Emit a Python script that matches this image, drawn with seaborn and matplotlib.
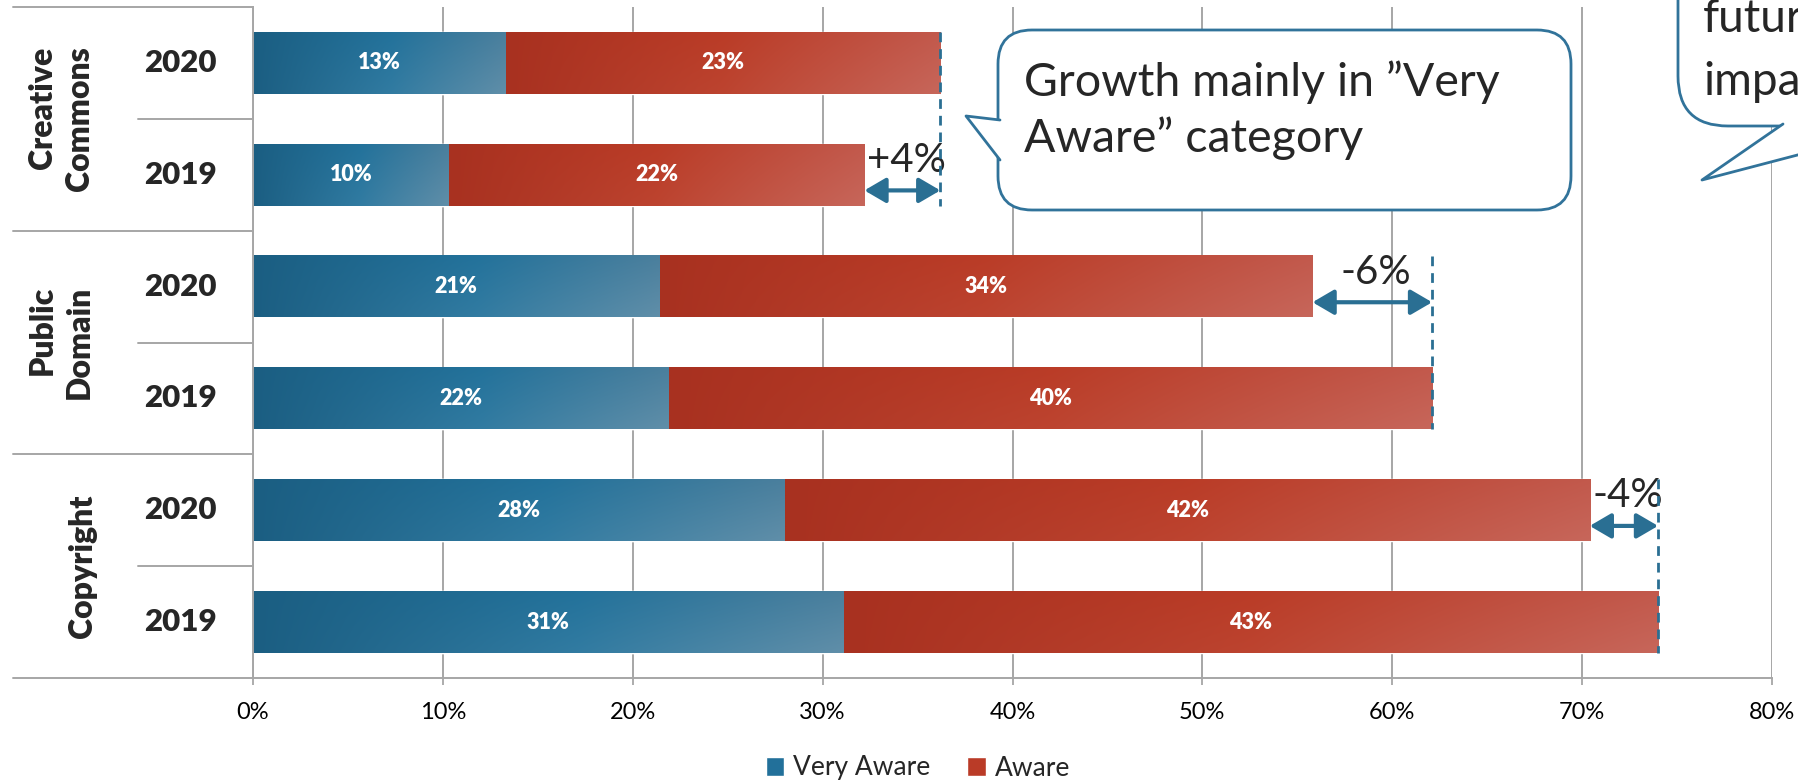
import numpy as np
import pandas as pd
import matplotlib
matplotlib.use("Agg")
import matplotlib.pyplot as plt
import matplotlib.transforms as mtransforms
from matplotlib.patches import FancyBboxPatch, Polygon, Patch, ArrowStyle
from matplotlib.lines import Line2D
from matplotlib.colors import to_rgb
import seaborn as sns

# ---------------- data ----------------
groups = ["Creative\nCommons", "Public\nDomain", "Copyright"]
years = ["2020", "2019"]
rows = ["Creative Commons 2020", "Creative Commons 2019",
        "Public Domain 2020", "Public Domain 2019",
        "Copyright 2020", "Copyright 2019"]
very_aware = [13.3, 10.3, 21.4, 21.9, 28.0, 31.1]
aware = [22.9, 21.9, 34.4, 40.2, 42.4, 42.9]
xticks = [0, 10, 20, 30, 40, 50, 60, 70, 80]
series_names = ["Very Aware", "Aware"]
callout_1 = ["Growth mainly in \u201dVery", "Aware\u201d category"]
callout_2 = ["future", "impact"]

# ---------------- style ----------------
sns.set_theme(style="white")
plt.rcParams["font.family"] = ["Lato", "DejaVu Sans"]

BLUE = "#22709A"
RED = "#BA3B27"
GRID = "#A6A6A6"
ARROW = "#2A6F93"
EDGE = "#31739A"

W, H = 1798, 781
fig = plt.figure(figsize=(W / 100, H / 100), dpi=100)
fig.patch.set_facecolor("white")
ax_l, ax_r, ax_t, ax_b = 253, 1772, 7, 678
ax = fig.add_axes([ax_l / W, 1 - ax_b / H, (ax_r - ax_l) / W, (ax_b - ax_t) / H])

df = pd.DataFrame({"row": rows, "va": very_aware, "aware": aware})
df["total"] = df["va"] + df["aware"]

sns.barplot(data=df, x="total", y="row", color=RED, width=0.55,
            saturation=1, ax=ax, zorder=1)
sns.barplot(data=df, x="va", y="row", color=BLUE, width=0.55,
            saturation=1, ax=ax, zorder=1)


def gradient(stops, n=200, m=40, light=0.12):
    xs = np.linspace(0, 1, n)
    pos = [s[0] for s in stops]
    cols = np.array([to_rgb(s[1]) for s in stops])
    row = np.stack([np.interp(xs, pos, cols[:, k]) for k in range(3)], axis=-1)
    img = np.repeat(row[None, :, :], m, axis=0)
    ys = np.linspace(0, 1, m)[:, None, None]
    amt = light * xs[None, :, None] * ys
    return img * (1 - amt) + amt


blue_grad = gradient([(0, "#1B5E82"), (0.55, "#23729B"), (1, "#4A7F9D")])
red_grad = gradient([(0, "#A83120"), (0.5, "#BA3C27"), (1, "#C2594C")], light=0.08)

n = len(rows)
red_patches = ax.patches[:n]
blue_patches = ax.patches[n:2 * n]
for i, p in enumerate(red_patches):
    y0, h = p.get_y(), p.get_height()
    x0 = df["va"].iloc[i]
    x1 = p.get_x() + p.get_width()
    ax.imshow(red_grad, extent=(x0, x1, y0 + h, y0), aspect="auto",
              interpolation="bilinear", zorder=1.2)
for p in blue_patches:
    y0, h = p.get_y(), p.get_height()
    ax.imshow(blue_grad, extent=(p.get_x(), p.get_x() + p.get_width(), y0 + h, y0),
              aspect="auto", interpolation="bilinear", zorder=1.3)

ax.set_xlim(0, 80)
ax.set_ylim(n - 0.5, -0.5)
ax.set_aspect("auto")
ax.set_xlabel("")
ax.set_ylabel("")
ax.set_yticks([])
ax.set_xticks(xticks)
ax.set_xticklabels([f"{v}%" for v in xticks])
ax.tick_params(axis="x", length=5, width=1.3, color=GRID, pad=12,
               labelsize=17, labelcolor="#000000", bottom=True)
ax.xaxis.grid(True, color=GRID, lw=1.4)
ax.set_axisbelow(True)
for s in ["top", "right"]:
    ax.spines[s].set_visible(False)
for s in ["left", "bottom"]:
    ax.spines[s].set_color(GRID)
    ax.spines[s].set_linewidth(1.4)

# bar value labels
for i in range(n):
    va = df["va"].iloc[i]
    aw = df["aware"].iloc[i]
    ax.text(va / 2, i, f"{va:.0f}%", color="white", fontsize=15.5,
            fontweight="heavy", ha="center", va="center", zorder=5)
    ax.text(va + aw / 2, i, f"{aw:.0f}%", color="white", fontsize=15.5,
            fontweight="heavy", ha="center", va="center", zorder=5)

# category table on the left
tr = mtransforms.blended_transform_factory(fig.transFigure, ax.transData)
for b in np.arange(-0.5, n, 1.0):
    k = int(round(b + 0.5))
    xs = 13 if k % 2 == 0 else 138
    ax.add_line(Line2D([xs / W, ax_l / W], [b, b], transform=tr, color=GRID,
                       lw=1.4, clip_on=False))
for i in range(n):
    ax.text(180 / W, i, years[i % 2], transform=tr, fontsize=22.5,
            fontweight="heavy", ha="center", va="center")
for g, name in enumerate(groups):
    xc = 61 if "\n" in name else 83
    ax.text(xc / W, 2 * g + 0.5, name, transform=tr, fontsize=23,
            fontweight="heavy", ha="center", va="center", rotation=90,
            multialignment="right", linespacing=1.35)

# change arrows
style = ArrowStyle("<|-|>", head_length=0.65, head_width=0.38)
for g in range(len(groups)):
    t20 = df["total"].iloc[2 * g]
    t19 = df["total"].iloc[2 * g + 1]
    short_row = 2 * g if t20 < t19 else 2 * g + 1
    lo, hi = min(t20, t19), max(t20, t19)
    ya = short_row + 0.14
    ax.annotate("", xy=(hi, ya), xytext=(lo, ya),
                arrowprops=dict(arrowstyle=style, mutation_scale=20,
                                color=ARROW, lw=3, shrinkA=0, shrinkB=0),
                zorder=6)
    ax.text((lo + hi) / 2 + 0.2, ya - 0.27, f"{t20 - t19:+.0f}%", fontsize=29,
            ha="center", va="center", zorder=6)
    ax.plot([hi, hi], [2 * g - 0.275, 2 * g + 1 + 0.275], color=ARROW, lw=2,
            linestyle=(0, (3.5, 2.5)), zorder=6)

# legend
handles = [Patch(facecolor=BLUE), Patch(facecolor=RED)]
fig.legend(handles, series_names, loc="center", bbox_to_anchor=(918 / W, 1 - 768 / H),
           ncol=2, frameon=False, fontsize=19, handlelength=0.7, handleheight=0.7,
           handletextpad=0.35, columnspacing=1.4)

# callouts (overlay in pixel coordinates)
oax = fig.add_axes([0, 0, 1, 1])
oax.set_xlim(0, W)
oax.set_ylim(H, 0)
oax.axis("off")


def callout(x, y, w, h, r, tail):
    box = FancyBboxPatch((x, y), w, h, boxstyle=f"round,pad=0,rounding_size={r}",
                         fc="white", ec=EDGE, lw=2, clip_on=False, zorder=2)
    oax.add_patch(box)
    (b1, tip, b2) = tail
    oax.add_patch(Polygon([b1, tip, b2], closed=True, fc="white", ec="none",
                          clip_on=False, zorder=3))
    oax.add_line(Line2D([b1[0], tip[0], b2[0]], [b1[1], tip[1], b2[1]],
                        color=EDGE, lw=2, clip_on=False, zorder=4))


callout(998, 30, 573, 180, 34, [(1000, 120), (966, 116), (1000, 160)])
oax.text(1024, 96, callout_1[0], fontsize=33.5, va="baseline", ha="left", zorder=5)
oax.text(1024, 152, callout_1[1], fontsize=33.5, va="baseline", ha="left", zorder=5)

callout(1678, -120, 320, 246, 50, [(1783, 124), (1702, 180), (1916, 124)])
oax.text(1703, 32, callout_2[0], fontsize=33, va="baseline", ha="left", zorder=5)
oax.text(1703, 95, callout_2[1], fontsize=33, va="baseline", ha="left", zorder=5)

fig.savefig("out.png", dpi=100, facecolor="white")
